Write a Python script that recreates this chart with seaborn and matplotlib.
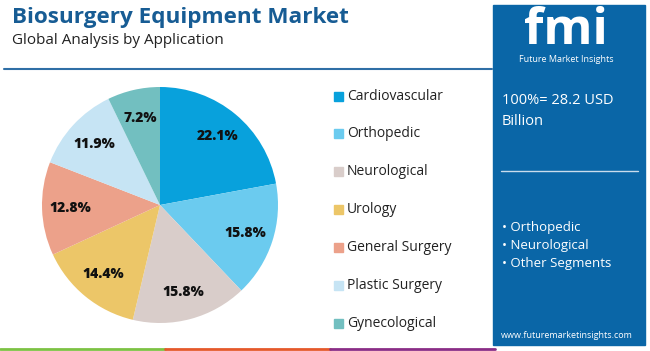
import matplotlib
matplotlib.use("Agg")
import matplotlib.pyplot as plt
import seaborn as sns
from matplotlib.patches import Rectangle

categories = ["Cardiovascular", "Orthopedic", "Neurological", "Urology",
              "General Surgery", "Plastic Surgery", "Gynecological"]
shares = [22.1, 15.8, 15.8, 14.4, 12.8, 11.9, 7.2]
colors = ["#08a1dc", "#6bcbef", "#d9cdca", "#ecc668", "#eca18a", "#c6e4f4", "#72bfc0"]
title = "Biosurgery Equipment Market"
subtitle = "Global Analysis by Application"
total_text = "100%= 28.2 USD\nBillion"
bullets = ["Orthopedic", "Neurological", "Other Segments"]

sns.set_theme(style="white")
plt.rcParams["font.family"] = ["Open Sans", "DejaVu Sans"]

W, H = 650, 351
fig = plt.figure(figsize=(W / 100, H / 100), dpi=100)
fig.patch.set_facecolor("white")

def fx(x): return x / W
def fy(y): return 1 - y / H

# Title
fig.text(fx(12), fy(17), title, fontsize=16.2, fontweight="bold", color="#175c94", va="center", ha="left")
fig.text(fx(12), fy(40), subtitle, fontsize=11, color="#222222", va="center", ha="left")
# header line
fig.add_artist(plt.Line2D([fx(4), fx(492)], [fy(69), fy(69)], color="#2f6fa6", lw=1.5))
# bottom colored line
for x0, x1, c in [(0, 165, "#7cc243"), (165, 330, "#e5582a"), (330, 495, "#8a2d86")]:
    fig.add_artist(plt.Line2D([fx(x0), fx(x1)], [fy(349), fy(349)], color=c, lw=2))

# Right panel
fig.add_artist(Rectangle((fx(493), fy(345)), fx(645) - fx(493), fy(5) - fy(345),
                         transform=fig.transFigure, color="#0a66a7", zorder=0))
fig.text(fx(566), fy(31), "fmi", fontsize=36, fontweight="bold", color="white", ha="center", va="center")
fig.text(fx(566), fy(60), "Future Market Insights", fontsize=6.5, color="white", ha="center", va="center")
fig.text(fx(502), fy(111), total_text, fontsize=10.5, color="white", ha="left", va="center", linespacing=1.6)
fig.add_artist(plt.Line2D([fx(501), fx(638)], [fy(171), fy(171)], color="#c9dced", lw=1))
for i, b in enumerate(bullets):
    fig.text(fx(502), fy(228 + i * 17.5), "\u2022 " + b, fontsize=9.5, color="white", ha="left", va="center")
fig.text(fx(567), fy(336), "www.futuremarketinsights.com", fontsize=6.5, color="white", ha="center", va="center")

# Pie
cx, cy, r = 160, 205, 118
ax = fig.add_axes([fx(cx - r), fy(cy + r), 2 * r / W, 2 * r / H])
wedges, texts, autotexts = ax.pie(shares, colors=colors, startangle=90, counterclock=False,
                                  autopct=lambda p: f"{p:.1f}%", pctdistance=0.76,
                                  wedgeprops=dict(linewidth=0))
for t in autotexts:
    t.set_fontsize(10)
    t.set_fontweight("heavy")
    t.set_color("#111111")
ax.set_aspect("equal")
ax.set_xlim(-1, 1)
ax.set_ylim(-1, 1)

# Legend
for i, (cat, c) in enumerate(zip(categories, colors)):
    y = 96 + i * 37.9
    fig.add_artist(Rectangle((fx(334), fy(y + 4.5)), 9 / W, 9 / H, transform=fig.transFigure, color=c))
    fig.text(fx(347), fy(y), cat, fontsize=10, color="#222222", ha="left", va="center")

fig.savefig("out.png", dpi=100)
